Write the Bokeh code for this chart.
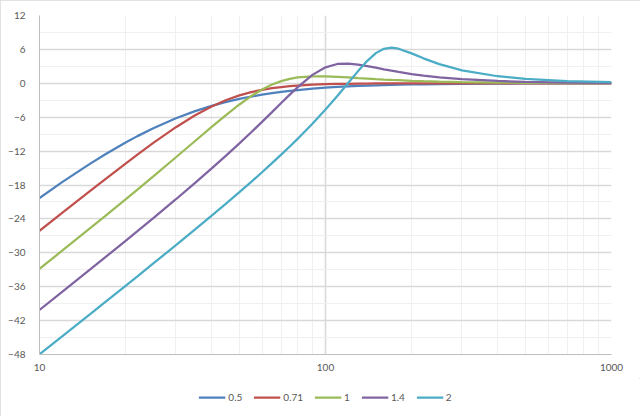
from bokeh.plotting import figure
from bokeh.layouts import column
from bokeh.models import FixedTicker, Legend, LegendItem, PrintfTickFormatter
from bokeh.embed import file_html
from bokeh.resources import INLINE

freq = [10, 12, 15, 17, 20, 22, 25, 30, 35, 40, 45, 50, 55, 60, 65, 70, 75, 80, 90, 100,
        110, 120, 130, 140, 150, 160, 170, 180, 200, 220, 250, 300, 400, 500, 700, 1000]

series_names = ["0.5", "0.71", "1", "1.4", "2"]

db_q05 = [-20.31, -17.50, -14.26, -12.55, -10.48, -9.35, -7.95, -6.19, -4.93, -4.00,
          -3.30, -2.76, -2.34, -2.01, -1.74, -1.52, -1.34, -1.19, -0.95, -0.78,
          -0.65, -0.55, -0.47, -0.41, -0.35, -0.31, -0.28, -0.25, -0.20, -0.17,
          -0.13, -0.09, -0.05, -0.03, -0.02, -0.01]
db_q071 = [-26.10, -22.94, -19.09, -16.95, -14.20, -12.62, -10.55, -7.77, -5.66, -4.10,
           -2.96, -2.14, -1.56, -1.15, -0.86, -0.66, -0.50, -0.39, -0.24, -0.16,
           -0.11, -0.08, -0.05, -0.04, -0.03, -0.02, -0.02, -0.01, -0.01, -0.01,
           0.0, 0.0, 0.0, 0.0, 0.0, 0.0]
db_q1 = [-32.84, -29.63, -25.68, -23.45, -20.53, -18.80, -16.46, -13.09, -10.21, -7.72,
         -5.57, -3.75, -2.26, -1.09, -0.22, 0.39, 0.79, 1.04, 1.24, 1.23,
         1.15, 1.04, 0.93, 0.84, 0.75, 0.67, 0.60, 0.55, 0.45, 0.38,
         0.30, 0.21, 0.12, 0.08, 0.04, 0.02]
db_q14 = [-40.11, -36.92, -32.99, -30.77, -27.88, -26.17, -23.86, -20.52, -17.63, -15.07,
          -12.76, -10.63, -8.66, -6.82, -5.10, -3.49, -2.01, -0.67, 1.49, 2.83,
          3.42, 3.50, 3.32, 3.05, 2.76, 2.48, 2.23, 2.01, 1.64, 1.36,
          1.06, 0.74, 0.41, 0.26, 0.13, 0.07]
db_q2 = [-47.97, -44.79, -40.89, -38.69, -35.84, -34.16, -31.89, -28.64, -25.86, -23.43,
         -21.25, -19.26, -17.44, -15.74, -14.14, -12.63, -11.18, -9.80, -7.15, -4.65,
         -2.25, 0.04, 2.16, 3.98, 5.34, 6.10, 6.30, 6.12, 5.30, 4.42,
         3.39, 2.30, 1.25, 0.79, 0.40, 0.19]

y_ticks = list(range(-48, 13, 6))
y_minor = list(range(-45, 12, 6))
x_ticks = [10, 100, 1000]
x_minor = [m * 10 ** e for e in (1, 2) for m in range(2, 10)]

colors = ["#4F81BD", "#C0504D", "#9BBB59", "#8064A2", "#4BACC6"]
all_series = [db_q05, db_q071, db_q1, db_q14, db_q2]

FONT = "Lato"
TXT = "#595959"

p = figure(output_backend="svg", toolbar_location=None,
           x_axis_type="log", x_range=(10, 1000), y_range=(-48, 12),
           width=640, height=378,
           min_border_left=39, min_border_top=15, min_border_right=29,
           min_border_bottom=24)
p.outline_line_color = None
p.background_fill_color = "white"
p.border_fill_color = "white"

xt = FixedTicker(ticks=x_ticks, minor_ticks=x_minor)
yt = FixedTicker(ticks=y_ticks, minor_ticks=y_minor)
p.xaxis.ticker = xt
p.yaxis.ticker = yt
p.xgrid.ticker = xt
p.ygrid.ticker = yt
p.xaxis.formatter = PrintfTickFormatter(format="%d")

for g in (p.xgrid, p.ygrid):
    g.grid_line_color = "#D9D9D9"
    g.grid_line_width = 1.6
    g.minor_grid_line_color = "#F0F0F0"
    g.minor_grid_line_width = 1

for ax in (p.xaxis, p.yaxis):
    ax.axis_line_color = "#BFBFBF"
    ax.axis_line_width = 1
    ax.major_tick_line_color = None
    ax.minor_tick_line_color = None
    ax.major_tick_out = 0
    ax.major_tick_in = 0
    ax.minor_tick_out = 0
    ax.major_label_text_font = FONT
    ax.major_label_text_font_size = "10px"
    ax.major_label_text_color = TXT

p.yaxis.major_label_standoff = 14
p.xaxis.major_label_standoff = 9

for col, ys in zip(colors, all_series):
    p.line(freq, ys, line_color=col, line_width=2.25)

# legend strip below the chart (its own copies of the series lie outside its view)
pl = figure(output_backend="svg", toolbar_location=None, width=640, height=38,
            x_range=(0, 1), y_range=(0, 1), x_axis_location=None,
            y_axis_location=None, min_border=0)
pl.outline_line_color = None
pl.grid.visible = False
pl.border_fill_color = "white"
pl.background_fill_color = "white"

items = []
for name, col, ys in zip(series_names, colors, all_series):
    r = pl.line(freq, ys, line_color=col, line_width=2.25)
    items.append(LegendItem(label=name, renderers=[r]))

legend = Legend(items=items, orientation="horizontal", location="center",
                label_text_font=FONT, label_text_font_size="10px",
                label_text_color=TXT, glyph_width=27, glyph_height=14,
                label_width=0, label_height=0,
                label_standoff=3, spacing=11, padding=4, margin=0,
                border_line_color=None, background_fill_alpha=0)
pl.add_layout(legend, "center")

layout = column(p, pl, spacing=0,
                styles={"outline": "1px solid #D9D9D9", "outline-offset": "-1px"})

open("out.html", "w").write(file_html(layout, INLINE))
